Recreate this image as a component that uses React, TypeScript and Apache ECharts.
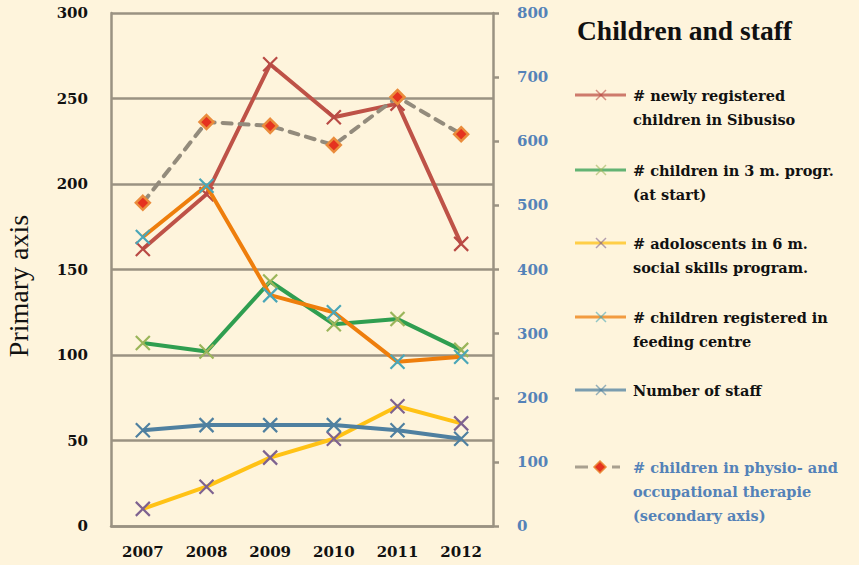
import React, { useEffect, useRef } from "react";
import * as echarts from "echarts";

const years = ["2007", "2008", "2009", "2010", "2011", "2012"];
const newlyRegistered = [162, 194, 270, 239, 247, 165];
const threeMonthProgram = [107, 102, 143, 118, 121, 103];
const adolescentsSocial = [10, 23, 40, 51, 70, 60];
const feedingCentre = [169, 199, 135, 125, 96, 99];
const staffNumber = [56, 59, 59, 59, 56, 51];
const physioTherapy = [504, 630, 624, 594, 669, 611];

const legendLabels = [
  "# newly registered\nchildren in Sibusiso",
  "# children in 3 m. progr.\n(at start)",
  "# adoloscents in 6 m.\nsocial skills program.",
  "# children registered in\nfeeding centre",
  "Number of staff",
  "# children in physio- and\noccupational therapie\n(secondary axis)",
];

const BG = "#FEF4DC";
const AXIS = "#9A9282";
const BLUE_TXT = "#5482B8";
const X_PATH = "path://M0,0L10,10M10,0L0,10";

const lineDefs = [
  { data: newlyRegistered, line: "#BE5247", mark: "#B94A45" },
  { data: threeMonthProgram, line: "#2F9E50", mark: "#9BB55A" },
  { data: adolescentsSocial, line: "#FFC215", mark: "#7E6290" },
  { data: feedingCentre, line: "#EE7E0C", mark: "#4AA6B8" },
  { data: staffNumber, line: "#4F80A0", mark: "#4F80A0" },
];

export default function App() {
  const ref = useRef<HTMLDivElement>(null);
  useEffect(() => {
    if (!ref.current) return;
    const chart = echarts.init(ref.current, undefined, { renderer: "svg" });

    const series: any[] = lineDefs.map((d, i) => ({
      type: "line",
      name: legendLabels[i],
      yAxisIndex: 0,
      data: d.data,
      symbol: X_PATH,
      symbolSize: 14,
      lineStyle: { color: d.line, width: 4 },
      itemStyle: { color: d.mark, borderColor: d.mark, borderWidth: 2.2 },
      z: 3 + i,
    }));
    series.push({
      type: "line",
      name: legendLabels[5],
      yAxisIndex: 1,
      data: physioTherapy,
      symbol: "diamond",
      symbolSize: 14,
      lineStyle: { color: "#938B7C", width: 4, type: [9, 8], cap: "round" },
      itemStyle: { color: "#E5321F", borderColor: "#EA8C3C", borderWidth: 2.5 },
      z: 10,
    });

    const legendY = [95, 170, 243, 317, 390, 467];
    const graphics: any[] = [];
    legendY.forEach((y, i) => {
      const isPhysio = i === 5;
      if (!isPhysio) {
        const c = lineDefs[i];
        graphics.push({
          type: "line",
          shape: { x1: 575, y1: y, x2: 626, y2: y },
          style: { stroke: c.line, lineWidth: 3, opacity: 0.75 },
        });
        graphics.push({
          type: "line",
          shape: { x1: 596, y1: y - 5, x2: 606, y2: y + 5 },
          style: { stroke: c.mark, lineWidth: 1.5, opacity: 0.6 },
        });
        graphics.push({
          type: "line",
          shape: { x1: 606, y1: y - 5, x2: 596, y2: y + 5 },
          style: { stroke: c.mark, lineWidth: 1.5, opacity: 0.6 },
        });
      } else {
        graphics.push({
          type: "line",
          shape: { x1: 575, y1: y, x2: 588, y2: y },
          style: { stroke: "#938B7C", lineWidth: 3, opacity: 0.8 },
        });
        graphics.push({
          type: "line",
          shape: { x1: 612, y1: y, x2: 620, y2: y },
          style: { stroke: "#938B7C", lineWidth: 3, opacity: 0.8 },
        });
        graphics.push({
          type: "polygon",
          shape: { points: [[600, y - 6], [606, y], [600, y + 6], [594, y]] },
          style: { fill: "#E5321F", stroke: "#EA8C3C", lineWidth: 1.5 },
        });
      }
      graphics.push({
        type: "text",
        x: 633,
        y: y - 12,
        style: {
          text: legendLabels[i],
          fontFamily: "DejaVu Serif",
          fontWeight: "bold",
          fontSize: 14.5,
          lineHeight: 24,
          fill: isPhysio ? BLUE_TXT : "#111111",
          verticalAlign: "top",
        },
      });
    });
    graphics.push({
      type: "text",
      x: 577,
      y: 30,
      style: {
        text: "Children and staff",
        fontFamily: "Liberation Serif",
        fontWeight: "bold",
        fontSize: 27.5,
        fill: "#111111",
        verticalAlign: "middle",
      },
    });
    graphics.push({
      type: "text",
      x: 18,
      y: 286,
      rotation: Math.PI / 2,
      style: {
        text: "Primary axis",
        fontFamily: "Liberation Serif",
        fontSize: 28,
        fill: "#111111",
        align: "center",
        verticalAlign: "middle",
      },
    });

    chart.setOption({
      animation: false,
      backgroundColor: BG,
      grid: { left: 111, right: 366, top: 13, bottom: 39, containLabel: false },
      xAxis: {
        type: "category",
        data: years,
        boundaryGap: true,
        axisLine: { lineStyle: { color: AXIS, width: 2.5 } },
        axisTick: { show: false },
        axisLabel: {
          margin: 18,
          color: "#111111",
          fontFamily: "DejaVu Serif",
          fontWeight: "bold",
          fontSize: 15,
        },
      },
      yAxis: [
        {
          type: "value",
          min: 0,
          max: 300,
          interval: 50,
          axisLine: { show: true, lineStyle: { color: AXIS, width: 2.5 } },
          axisTick: { show: false },
          splitLine: { show: true, lineStyle: { color: AXIS, width: 2.5 } },
          axisLabel: {
            margin: 23,
            color: "#111111",
            fontFamily: "DejaVu Serif",
            fontWeight: "bold",
            fontSize: 15,
          },
        },
        {
          type: "value",
          position: "right",
          min: 0,
          max: 800,
          interval: 100,
          axisLine: { show: true, lineStyle: { color: AXIS, width: 2.5 } },
          axisTick: { show: true, length: 6, lineStyle: { color: AXIS, width: 2.5 } },
          splitLine: { show: false },
          axisLabel: {
            margin: 24,
            color: BLUE_TXT,
            fontFamily: "DejaVu Serif",
            fontWeight: "bold",
            fontSize: 15,
          },
        },
      ],
      series,
      graphic: graphics,
    });
    return () => chart.dispose();
  }, []);
  return (
    <div
      ref={ref}
      style={{ position: "fixed", left: 0, top: 0, width: 859, height: 565, background: BG }}
    />
  );
}
